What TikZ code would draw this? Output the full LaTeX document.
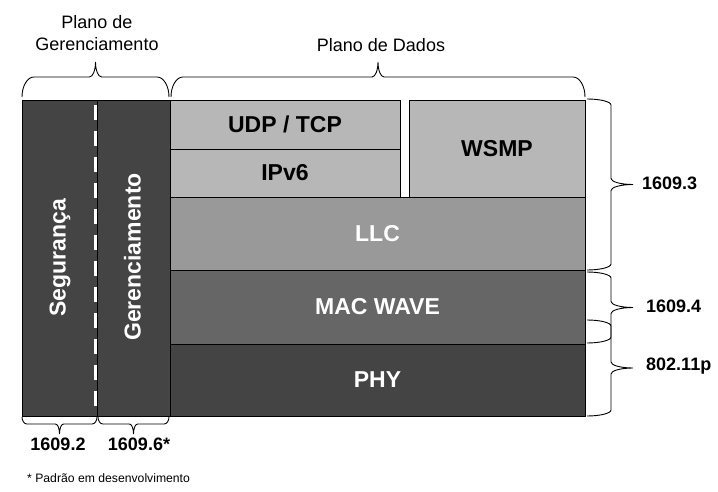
\documentclass[tikz,border=0pt]{standalone}
\usepackage{fontspec}
\setmainfont{Liberation Sans}
\definecolor{lightg}{HTML}{B7B7B7}
\definecolor{midg}{HTML}{999999}
\definecolor{macg}{HTML}{666666}
\definecolor{darkg}{HTML}{444444}
% right-facing brace: x0, ya, yb, a1 (end depth), a2 (tip depth), r1 (end radius), r2 (tip radius)
\newcommand{\RBrace}[7]{%
  \pgfmathsetmacro\bxv{#1+#4}%
  \pgfmathsetmacro\bxt{#1+#4+#5}%
  \pgfmathsetmacro\bym{(#2+#3)/2}%
  \draw[bracestyle] (#1,#2) .. controls ({#1+0.552*#4},#2) and (\bxv,{#2+#6-0.552*#6}) .. (\bxv,{#2+#6})
   -- (\bxv,{\bym-#7}) .. controls (\bxv,{\bym-#7+0.552*#7}) and ({\bxt-0.552*#5},\bym) .. (\bxt,\bym)
   .. controls ({\bxt-0.552*#5},\bym) and (\bxv,{\bym+#7-0.552*#7}) .. (\bxv,{\bym+#7})
   -- (\bxv,{#3-#6}) .. controls (\bxv,{#3-#6+0.552*#6}) and ({#1+0.552*#4},#3) .. (#1,#3);}
% upward brace (negative depths give downward): xa, xb, y0, a1, a2, r1, r2
\newcommand{\TBrace}[7]{%
  \pgfmathsetmacro\byv{#3-(#4)}%
  \pgfmathsetmacro\byt{#3-(#4)-(#5)}%
  \pgfmathsetmacro\bxm{(#1+#2)/2}%
  \draw[bracestyle] (#1,#3) .. controls (#1,{#3-0.552*(#4)}) and ({#1+#6-0.552*#6},\byv) .. ({#1+#6},\byv)
   -- ({\bxm-#7},\byv) .. controls ({\bxm-#7+0.552*#7},\byv) and (\bxm,{\byt+0.552*(#5)}) .. (\bxm,\byt)
   .. controls (\bxm,{\byt+0.552*(#5)}) and ({\bxm+#7-0.552*#7},\byv) .. ({\bxm+#7},\byv)
   -- ({#2-#6},\byv) .. controls ({#2-#6+0.552*#6},\byv) and (#2,{#3-0.552*(#4)}) .. (#2,#3);}
\begin{document}
\begin{tikzpicture}[x=1pt,y=-1pt,
  bracestyle/.style={draw=black, line width=0.9pt},
  box/.style={draw=black, line width=0.8pt, anchor=north west, inner sep=0pt, outer sep=0pt,
    font=\fontsize{23}{27}\selectfont\bfseries},
  vlabel/.style={rotate=90, text=white, inner sep=0pt, font=\fontsize{23}{27}\selectfont\bfseries},
  stdlabel/.style={inner sep=0pt, font=\fontsize{18}{21}\selectfont\bfseries},
  planelabel/.style={inner sep=0pt, align=center, font=\fontsize{18}{21.5}\selectfont}]
\useasboundingbox (0,0) rectangle (718,492);
% management blocks
\node[box, fill=darkg, minimum width=75.5pt, minimum height=316pt] (seg) at (22,100) {};
\node[box, fill=darkg, minimum width=72.5pt, minimum height=316pt] (ger) at (97.5,100) {};
\node[vlabel] (segt) at (60,258) {Segurança};
\node[vlabel] (gert) at (132.5,257) {Gerenciamento};
\draw[white, line width=3.6pt, dash pattern=on 15pt off 11pt, dash phase=21.3pt] (95.5,100.5) -- (95.5,415.5);
% data plane stack
\node[box, fill=lightg, minimum width=230pt, minimum height=49pt] (udp) at (170,100) {UDP / TCP};
\node[box, fill=lightg, minimum width=230pt, minimum height=48pt] (ipv6) at (170,149) {IPv6};
\node[box, fill=lightg, minimum width=176pt, minimum height=97pt] (wsmp) at (409,100) {WSMP};
\node[box, fill=midg, text=white, minimum width=415pt, minimum height=73pt] (llc) at (170,197) {LLC};
\node[box, fill=macg, text=white, minimum width=415pt, minimum height=74pt] (mac) at (170,270) {MAC WAVE};
\node[box, fill=darkg, text=white, minimum width=415pt, minimum height=72pt] (phy) at (170,344) {PHY};
% top braces and labels
\TBrace{22}{169}{97}{20}{15}{12}{6}
\TBrace{171}{585}{97}{20}{15}{12}{6}
\node[planelabel] (pg) at (97,33) {Plano de\\Gerenciamento};
\node[planelabel] (pd) at (381,45) {Plano de Dados};
% right braces and labels
\RBrace{587}{99}{270}{24}{22}{6}{6}
\RBrace{587}{272}{343}{24}{22}{6}{6}
\RBrace{587}{320}{416}{24}{22}{6}{6}
\node[stdlabel, anchor=west] (s3) at (642,183) {1609.3};
\node[stdlabel, anchor=west] (s4) at (646,306) {1609.4};
\node[stdlabel, anchor=west] (sp) at (646,366) {802.11p};
% bottom braces and labels
\TBrace{22}{97}{417}{-7}{-10}{5}{4}
\TBrace{98}{169}{417}{-7}{-10}{5}{4}
\node[stdlabel] (s2) at (58,444) {1609.2};
\node[stdlabel] (s6) at (139,444) {1609.6*};
\node[inner sep=0pt, anchor=west, font=\fontsize{12.2}{14}\selectfont] (fn) at (27,478) {* Padrão em desenvolvimento};
\end{tikzpicture}
\end{document}
